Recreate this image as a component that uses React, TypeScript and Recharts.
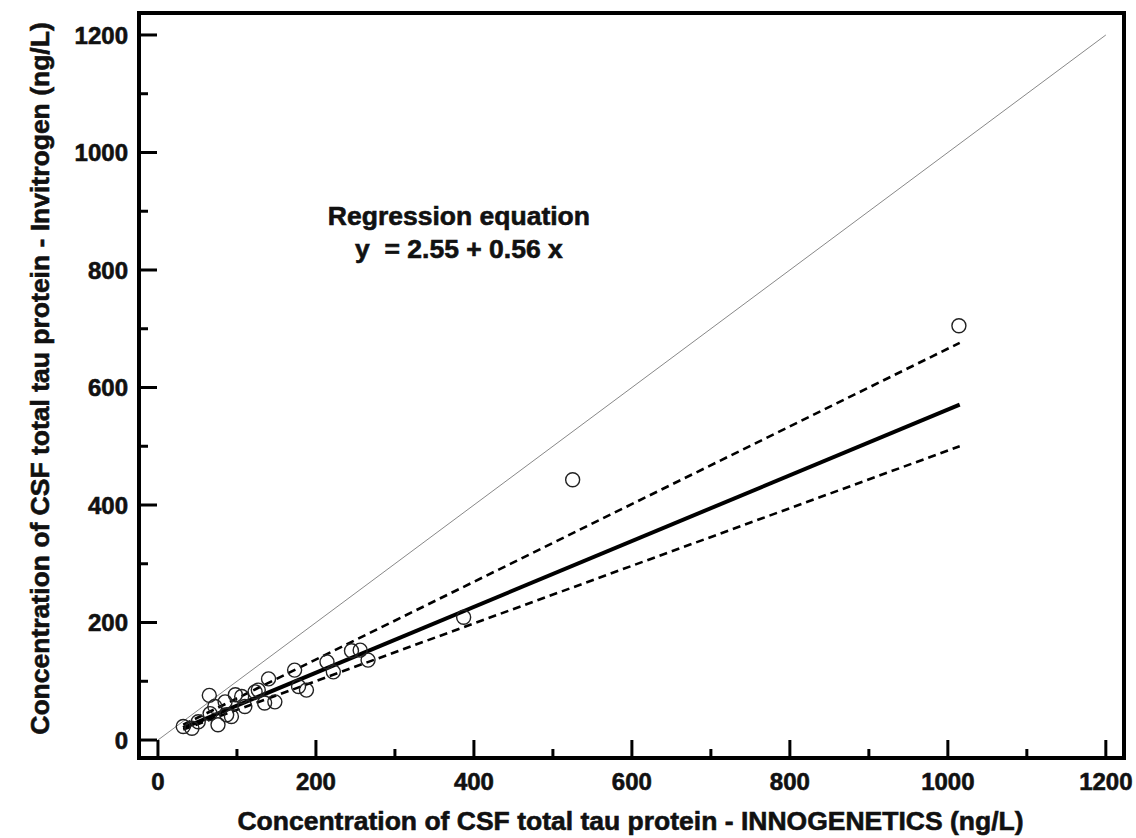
import React from 'react';
import { ScatterChart, Scatter, XAxis, YAxis, ReferenceArea, ReferenceDot } from 'recharts';

// ---------- data ----------
const POINT_X = [32, 43, 51, 65, 66, 72, 76, 85, 87, 93, 98, 106, 110, 123, 127, 135, 140, 148, 173, 178, 188, 214, 222, 245, 256, 266, 387, 525, 1014];
const POINT_Y = [23, 20, 31, 76, 45, 57, 26, 65, 43, 40, 77, 74, 57, 82, 85, 63, 104, 65, 119, 91, 85, 133, 116, 152, 153, 136, 209, 443, 705];

const LINE_X = [32, 1015];
const REG_Y = [20.5, 571];
const UPPER_Y = [26, 676];
const LOWER_Y = [18, 500];

const IDENTITY_X = [0, 1200];
const IDENTITY_Y = [0, 1200];

const TICKS = [0, 100, 200, 300, 400, 500, 600, 700, 800, 900, 1000, 1100, 1200];
const X_DOMAIN = [-24, 1223];
const Y_DOMAIN = [-30.6, 1237.4];

const ANNOT_X = 381;
const ANNOT_Y = 876;
const ANNOT_LINE1 = 'Regression equation';
const ANNOT_LINE2 = 'y\u00A0\u00A0= 2.55 + 0.56 x';

const X_TITLE = 'Concentration of CSF total tau protein - INNOGENETICS (ng/L)';
const Y_TITLE = 'Concentration of CSF total tau protein - Invitrogen (ng/L)';

// ---------- derived ----------
const points = POINT_X.map((x, i) => ({ x, y: POINT_Y[i] }));
const regData = LINE_X.map((x, i) => ({ x, y: REG_Y[i] }));
const upperData = LINE_X.map((x, i) => ({ x, y: UPPER_Y[i] }));
const lowerData = LINE_X.map((x, i) => ({ x, y: LOWER_Y[i] }));
const identityData = IDENTITY_X.map((x, i) => ({ x, y: IDENTITY_Y[i] }));

const FONT = '"Liberation Sans", Arial, Helvetica, sans-serif';
const TEXT_STYLE = { fontFamily: FONT, fontWeight: 'bold' as const, fill: '#111', stroke: '#111', strokeWidth: 0.6 };

const YTick = (props: any) => {
  const { x, y, payload } = props;
  const v = payload.value as number;
  const major = v % 200 === 0;
  return (
    <g>
      <line x1={x} x2={x + (major ? 18 : 9)} y1={y} y2={y} stroke="#000" strokeWidth={3} />
      {major && (
        <text x={x - 11} y={y} dy="0.36em" textAnchor="end" fontSize={24} style={TEXT_STYLE}>
          {v}
        </text>
      )}
    </g>
  );
};

const XTick = (props: any) => {
  const { x, y, payload } = props;
  const v = payload.value as number;
  const major = v % 200 === 0;
  return (
    <g>
      <line x1={x} x2={x} y1={y} y2={y - (major ? 18 : 9)} stroke="#000" strokeWidth={3} />
      {major && (
        <text x={x} y={y + 32} textAnchor="middle" fontSize={24} style={TEXT_STYLE}>
          {v}
        </text>
      )}
    </g>
  );
};

const Empty = () => <g />;

const Circle = (props: any) => {
  const { cx, cy } = props;
  return <circle cx={cx} cy={cy} r={7} fill="none" stroke="#222" strokeWidth={1.4} />;
};

const Annotation = (props: any) => {
  const { cx, cy } = props;
  return (
    <g>
      <text x={cx} y={cy} textAnchor="middle" fontSize={26.5} style={TEXT_STYLE}>
        {ANNOT_LINE1}
      </text>
      <text x={cx} y={cy + 33} textAnchor="middle" fontSize={26.5} style={TEXT_STYLE}>
        {ANNOT_LINE2}
      </text>
    </g>
  );
};

export default function App() {
  return (
    <div style={{ width: 1136, height: 838, background: '#fff' }}>
      <style>{`body{margin:0;background:#fff}`}</style>
      <ScatterChart width={1136} height={838} margin={{ top: 13, right: 12, left: 0, bottom: 0 }}>
        <XAxis
          type="number"
          dataKey="x"
          domain={X_DOMAIN}
          ticks={TICKS}
          interval={0}
          tickSize={0}
          tickMargin={0}
          axisLine={false}
          tickLine={false}
          tick={<XTick />}
          height={80}
          label={{
            content: (p: any) => {
              const vb = p.viewBox;
              return (
                <text x={vb.x + vb.width / 2 - 1} y={vb.y + 72} textAnchor="middle" fontSize={26.5} style={TEXT_STYLE}>
                  {X_TITLE}
                </text>
              );
            },
          }}
        />
        <YAxis
          type="number"
          dataKey="y"
          domain={Y_DOMAIN}
          ticks={TICKS}
          interval={0}
          tickSize={0}
          tickMargin={0}
          axisLine={false}
          tickLine={false}
          tick={<YTick />}
          width={139}
          label={{
            content: (p: any) => {
              const vb = p.viewBox;
              const cx = vb.x + 49;
              const cy = vb.y + vb.height / 2 - 7;
              return (
                <text x={cx} y={cy} transform={`rotate(-90 ${cx} ${cy})`} textAnchor="middle" fontSize={26.5} style={TEXT_STYLE}>
                  {Y_TITLE}
                </text>
              );
            },
          }}
        />
        <Scatter data={identityData} line={{ stroke: '#888', strokeWidth: 1 }} shape={<Empty />} isAnimationActive={false} />
        <Scatter data={upperData} line={{ stroke: '#000', strokeWidth: 2.6, strokeDasharray: '8 5' }} shape={<Empty />} isAnimationActive={false} />
        <Scatter data={lowerData} line={{ stroke: '#000', strokeWidth: 2.6, strokeDasharray: '8 5' }} shape={<Empty />} isAnimationActive={false} />
        <Scatter data={regData} line={{ stroke: '#000', strokeWidth: 4 }} shape={<Empty />} isAnimationActive={false} />
        <Scatter data={points} shape={<Circle />} isAnimationActive={false} />
        <ReferenceArea x1={X_DOMAIN[0]} x2={X_DOMAIN[1]} y1={Y_DOMAIN[0]} y2={Y_DOMAIN[1]} fill="none" stroke="#000" strokeWidth={4} fillOpacity={0} />
        <ReferenceDot x={ANNOT_X} y={ANNOT_Y} r={0} shape={<Annotation />} />
      </ScatterChart>
    </div>
  );
}
